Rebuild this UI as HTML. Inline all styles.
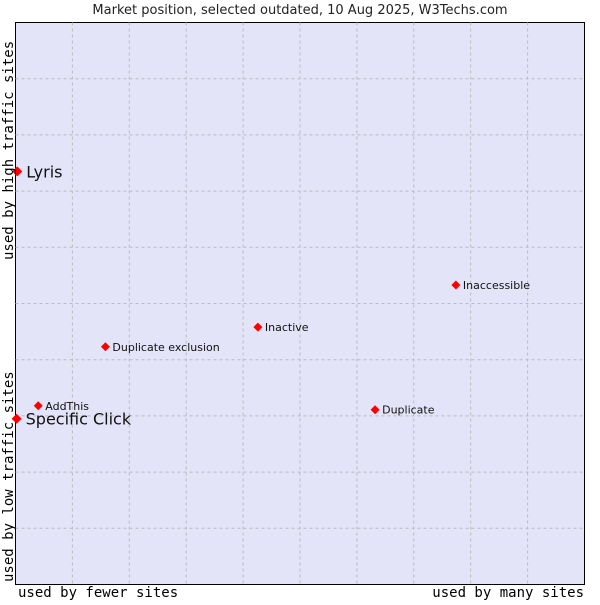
<!DOCTYPE html>
<html><head><meta charset="utf-8"><style>
body{margin:0;background:#fff;width:600px;height:600px;overflow:hidden}
svg text{font-family:"DejaVu Sans","Liberation Sans",sans-serif}
svg text.mono{font-family:"DejaVu Sans Mono","Liberation Mono",monospace}
</style></head><body>
<svg id="chart" width="600" height="600">
<text x="300" y="14" text-anchor="middle" font-size="13" fill="#222">Market position, selected outdated, 10 Aug 2025, W3Techs.com</text>
<rect x="15.5" y="22.5" width="569" height="562" fill="#e3e4f8" stroke="#000"/>
<g id="grid"></g>
<g id="points"></g>
<text class="mono" x="18" y="597" font-size="14">used by fewer sites</text>
<text class="mono" x="584" y="597" text-anchor="end" font-size="14">used by many sites</text>
<text class="mono" transform="translate(13,582) rotate(-90)" font-size="14">used by low traffic sites</text>
<text class="mono" transform="translate(13,260) rotate(-90)" font-size="14">used by high traffic sites</text>
</svg>
<script>
const names=["Lyris","Specific Click","AddThis","Duplicate exclusion","Inactive","Inaccessible","Duplicate"];
const xVals=[0.3,0.2,4.0,15.8,42.6,77.4,63.2];
const yVals=[73.5,29.5,31.8,42.3,45.8,53.3,31.1];
const big=[true,true,false,false,false,false,false];
const X0=15.5,X1=584.5,Y0=584.5,Y1=22.5;
const sx=v=>X0+(X1-X0)*v/100, sy=v=>Y0-(Y0-Y1)*v/100;
const NS="http://www.w3.org/2000/svg";
const grid=document.getElementById('grid'), pts=document.getElementById('points');
for(let i=1;i<10;i++){
  const v=document.createElementNS(NS,'line');
  v.setAttribute('x1',sx(i*10));v.setAttribute('x2',sx(i*10));v.setAttribute('y1',Y1);v.setAttribute('y2',Y0);
  v.setAttribute('stroke','#bbb');v.setAttribute('stroke-dasharray','3,3');
  
  
  grid.appendChild(v);
  const h=document.createElementNS(NS,'line');
  h.setAttribute('y1',sy(i*10));h.setAttribute('y2',sy(i*10));h.setAttribute('x1',X0);h.setAttribute('x2',X1);
  h.setAttribute('stroke','#bbb');h.setAttribute('stroke-dasharray','3,3');
  
  
  grid.appendChild(h);
}
names.forEach((n,i)=>{
  const x=sx(xVals[i]),y=sy(yVals[i]);
  const d=document.createElementNS(NS,'path');
  const r=big[i]?5:4.5;
  d.setAttribute('d',`M${x-r},${y}L${x},${y-r}L${x+r},${y}L${x},${y+r}Z`);
  d.setAttribute('fill','#f00');
  
  
  pts.appendChild(d);
  const t=document.createElementNS(NS,'text');
  t.setAttribute('x',x+(big[i]?9:7));t.setAttribute('y',y+(big[i]?6:4));
  t.setAttribute('font-size',big[i]?'16':'11');t.setAttribute('fill','#111');
  t.textContent=n;
  
  
  pts.appendChild(t);
});
</script>
</body></html>
